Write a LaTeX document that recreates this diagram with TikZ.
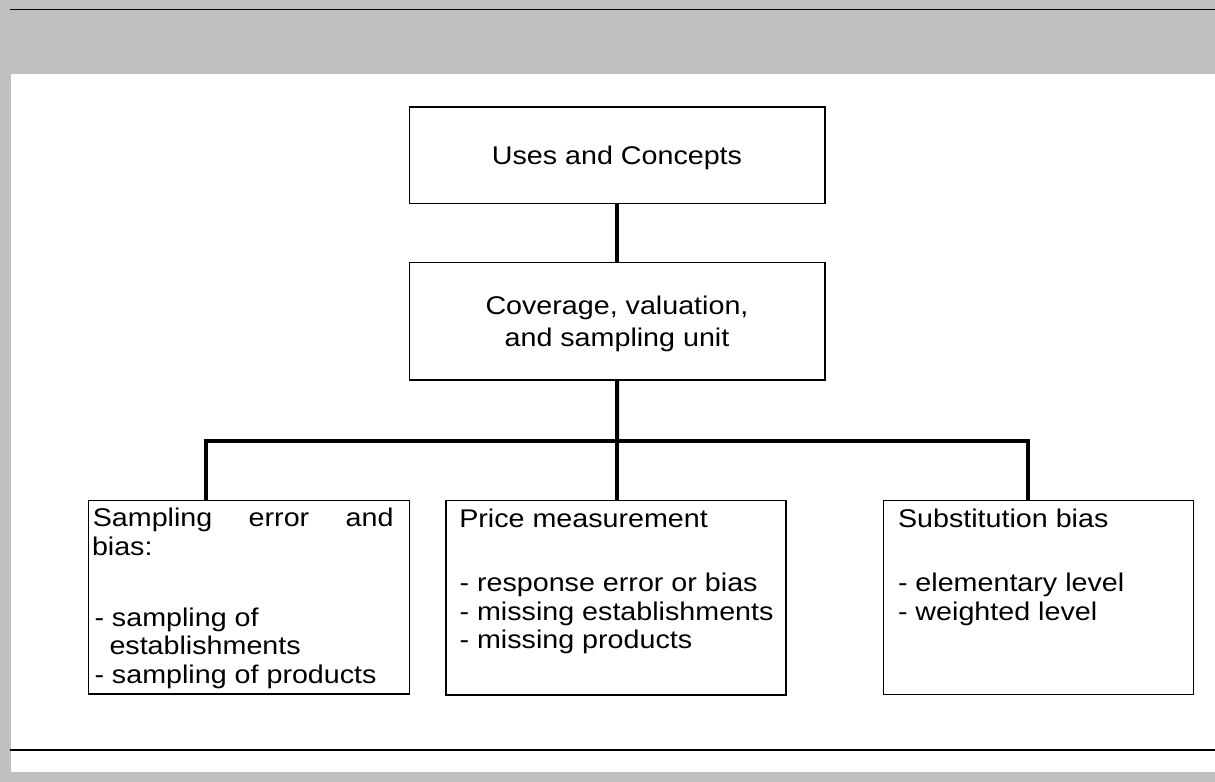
\documentclass[tikz,border=0pt]{standalone}
\usepackage{fontspec}
\newfontfamily\lsans[FakeStretch=1.12]{Liberation Sans}
\definecolor{bggray}{HTML}{C0C0C0}
\begin{document}
\begin{tikzpicture}[x=0.75pt,y=-0.75pt,
  every node/.style={font=\lsans\fontsize{19.2}{21.3}\selectfont, inner sep=0pt, outer sep=0pt},
  box/.style={draw=black, line width=1.2pt, fill=white, rectangle},
  conn/.style={draw=black, line width=3pt},
  rule/.style={draw=black},
  txt/.style={anchor=base west},
  ctxt/.style={anchor=base}]
\useasboundingbox (0,0) rectangle (1215,782);
% background
\fill[bggray] (0,0) rectangle (1215,782);
\fill[white] (11,73.7) rectangle (1215,771.7);
\draw[rule, line width=1pt] (10,9.3) -- (1215,9.3);
\draw[rule, line width=1.6pt] (10,750) -- (1215,750);
% boxes
\node[box, minimum width=415.7*0.75pt, minimum height=96.6*0.75pt] (uses) at (617.2,155) {};
\node[box, minimum width=415.7*0.75pt, minimum height=117.7*0.75pt] (cov) at (617.2,321.2) {};
\node[box, minimum width=321*0.75pt, minimum height=193.7*0.75pt] (samp) at (248.8,597.2) {};
\node[box, minimum width=340*0.75pt, minimum height=194.7*0.75pt] (price) at (615.7,597.7) {};
\node[box, minimum width=310*0.75pt, minimum height=194*0.75pt] (subst) at (1038.3,597.3) {};
% junction coordinates
\coordinate (jA) at (206,440.7);
\coordinate (jM) at (617,440.7);
\coordinate (jC) at (1028,440.7);
% connectors
\draw[conn] (uses.south) -- (cov.north);
\draw[conn] (cov.south) -- (jM);
\draw[conn] (jA |- samp.north) -- (jA) -- (jC) -- (jC |- subst.north);
\draw[conn] (jM) -- (jM |- price.north);
% texts
\node[ctxt] (t1) at (617,164.3) {Uses and Concepts};
\node[ctxt] (t2a) at (617,314) {Coverage, valuation,};
\node[ctxt] (t2b) at (617,346) {and sampling unit};
\node[txt] (a1) at (92.8,526.5) {\makebox[225.6pt][l]{Sampling\hfill error\hfill and}};
\node[txt] (a2) at (92,555) {bias:};
\node[txt] (a3) at (94.5,626) {- sampling of};
\node[txt] (a4) at (109.5,654.5) {establishments};
\node[txt] (a5) at (94.5,683) {- sampling of products};
\node[txt] (b1) at (459.3,527) {Price measurement};
\node[txt] (b2) at (459.6,591.7) {- response error or bias};
\node[txt] (b3) at (459.6,620) {- missing establishments};
\node[txt] (b4) at (459.6,648.3) {- missing products};
\node[txt] (c1) at (898,527) {Substitution bias};
\node[txt] (c2) at (898,591.7) {- elementary level};
\node[txt] (c3) at (898,620) {- weighted level};
\end{tikzpicture}
\end{document}
